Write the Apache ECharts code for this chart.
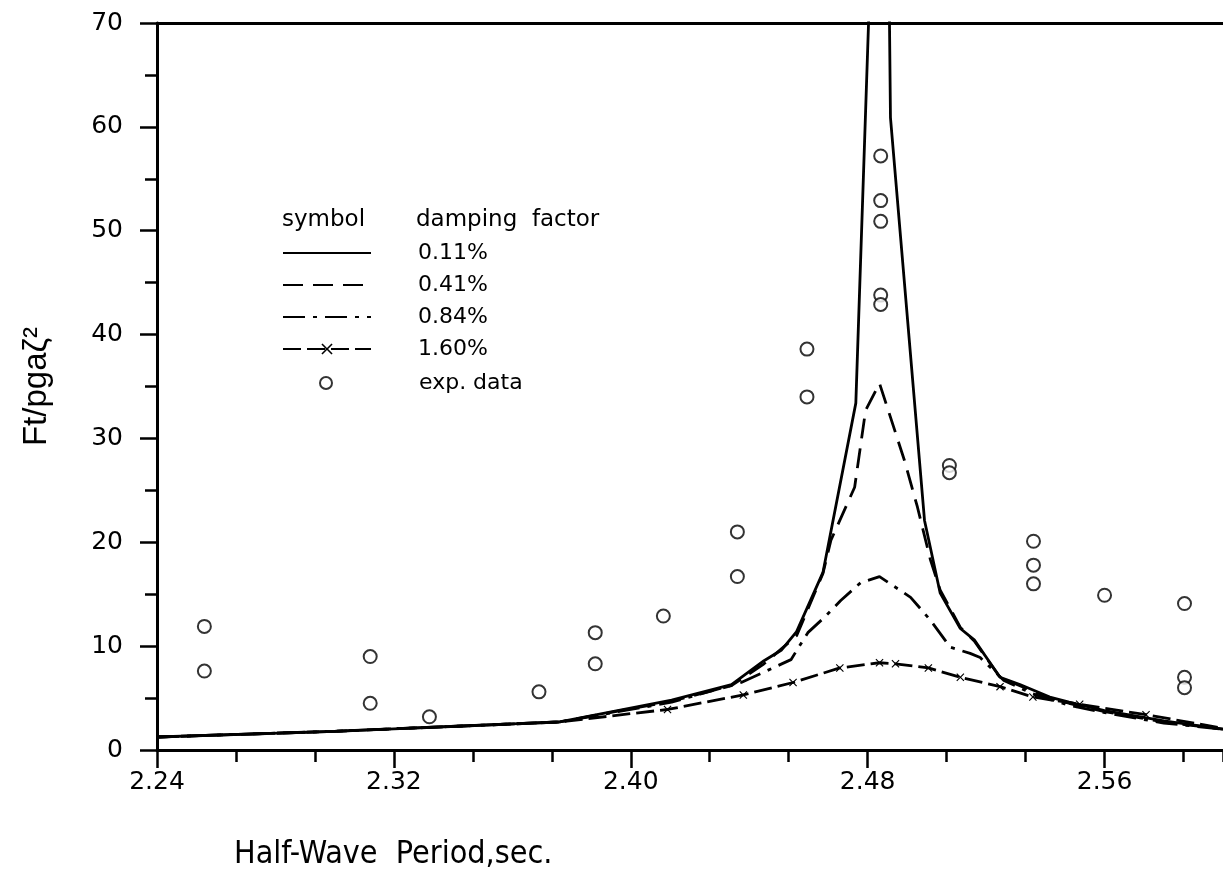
<!DOCTYPE html>
<html>
<head>
<meta charset="utf-8">
<script src="https://cdn.jsdelivr.net/npm/echarts@6/dist/echarts.min.js"></script>
<style>
html,body{margin:0;padding:0;background:#fff;}
#c{width:1223px;height:894px;}
</style>
</head>
<body>
<div id="c"></div>
<script>
// ---- data ----
const xTicks = [2.24, 2.32, 2.40, 2.48, 2.56];
const yTicks = [0, 10, 20, 30, 40, 50, 60, 70];

// damping 0.11 %
const d011X = [2.24, 2.30, 2.376, 2.4138, 2.434, 2.445, 2.4508, 2.456, 2.4649, 2.476, 2.4857, 2.4877, 2.4992, 2.5045, 2.5113, 2.516, 2.5247, 2.5314, 2.5415, 2.548, 2.56, 2.58, 2.60];
const d011Y = [1.25, 1.8, 2.7, 4.8, 6.3, 8.6, 9.6, 11.4, 17.1, 33.4, 116, 60.9, 22.1, 15.1, 11.7, 10.6, 7.0, 6.3, 5.1, 4.6, 3.8, 2.8, 2.0];

// damping 0.41 %
const d041X = [2.24, 2.30, 2.376, 2.4138, 2.434, 2.445, 2.456, 2.4649, 2.4676, 2.4756, 2.4793, 2.484, 2.4924, 2.4968, 2.5012, 2.5045, 2.5113, 2.516, 2.5247, 2.5314, 2.5415, 2.548, 2.56, 2.58, 2.60];
const d041Y = [1.25, 1.8, 2.7, 4.7, 6.2, 8.3, 11.0, 17.0, 20.2, 25.3, 32.7, 35.3, 27.9, 23.4, 18.3, 15.4, 11.8, 10.5, 7.0, 6.2, 5.0, 4.5, 3.7, 2.7, 2.0];

// damping 0.84 %
const d084X = [2.24, 2.30, 2.376, 2.4138, 2.4373, 2.4541, 2.4598, 2.4655, 2.4709, 2.4776, 2.484, 2.4945, 2.5012, 2.5079, 2.5146, 2.518, 2.526, 2.5358, 2.548, 2.56, 2.58, 2.60];
const d084Y = [1.25, 1.8, 2.7, 4.6, 6.5, 8.7, 11.3, 12.8, 14.4, 16.1, 16.7, 14.7, 12.5, 9.9, 9.3, 8.9, 6.7, 5.4, 4.3, 3.6, 2.6, 2.0];

// damping 1.60 %
const d160X = [2.24, 2.30, 2.376, 2.40, 2.4124, 2.438, 2.4548, 2.4706, 2.484, 2.4894, 2.5005, 2.5113, 2.5247, 2.5358, 2.5516, 2.574, 2.60];
const d160Y = [1.25, 1.8, 2.7, 3.5, 3.9, 5.3, 6.5, 7.9, 8.4, 8.3, 7.9, 7.0, 6.1, 5.1, 4.4, 3.4, 2.1];

// experimental data
const expX = [2.256, 2.256, 2.312, 2.312, 2.332, 2.369, 2.388, 2.388, 2.411, 2.436, 2.436, 2.4595, 2.4595, 2.4844, 2.4844, 2.4844, 2.4844, 2.4844, 2.5076, 2.5076, 2.536, 2.536, 2.536, 2.56, 2.587, 2.587, 2.587];
const expY = [11.9, 7.6, 9.0, 4.5, 3.2, 5.6, 11.3, 8.3, 12.9, 21.0, 16.7, 38.6, 34.0, 57.2, 52.9, 50.9, 43.8, 42.9, 27.4, 26.7, 20.1, 17.8, 16.0, 14.9, 14.1, 7.0, 6.0];

const seriesNames = ['0.11%', '0.41%', '0.84%', '1.60%'];
const expName = 'exp. data';

// ---- build ----
const zip = (xs, ys) => xs.map((x, i) => [x, ys[i]]);
const NUM_FONT = "'DejaVu Sans', 'Noto Sans', sans-serif";
const xMin = xTicks[0], xMax = 2.60, xStep = xTicks[1] - xTicks[0];
const yMin = yTicks[0], yMax = yTicks[yTicks.length - 1], yStep = yTicks[1] - yTicks[0];
const crossPath = 'path://M0,1L1,0L5,4L9,0L10,1L6,5L10,9L9,10L5,6L1,10L0,9L4,5Z';

const chart = echarts.init(document.getElementById('c'), null, {renderer: 'canvas'});
const lineBase = {
  type: 'line', xAxisIndex: 0, yAxisIndex: 0, smooth: false, symbol: 'none',
  animation: false, clip: true, z: 3
};
const legendText = {fontFamily: NUM_FONT, fontSize: 22, color: '#000', lineHeight: 20};
chart.setOption({
  animation: false,
  backgroundColor: '#fff',
  color: ['#000'],
  grid: {left: 157, right: 0, top: 23, bottom: 144, containLabel: false},
  xAxis: [
    {
      type: 'value', min: xMin, max: xMax, interval: xStep, position: 'bottom',
      axisLine: {show: true, onZero: false, lineStyle: {color: '#000', width: 3}},
      axisTick: {show: true, length: 18, lineStyle: {color: '#000', width: 2.5}},
      axisLabel: {
        show: true, margin: 20, color: '#000', fontFamily: NUM_FONT, fontSize: 25,
        showMaxLabel: false,
        formatter: v => {
          const k = (v - xMin) / xStep;
          return Math.abs(k - Math.round(k)) < 1e-6 ? v.toFixed(2) : '';
        }
      },
      splitLine: {show: false}
    },
    {
      type: 'value', min: xMin, max: xMax, interval: xStep / 3, position: 'bottom',
      axisLine: {show: false},
      axisTick: {show: true, length: 12, lineStyle: {color: '#000', width: 2.5}},
      axisLabel: {show: false},
      splitLine: {show: false}
    },
    {
      type: 'value', min: xMin, max: xMax, interval: xStep, position: 'top',
      axisLine: {show: true, onZero: false, lineStyle: {color: '#000', width: 3}},
      axisTick: {show: false}, axisLabel: {show: false}, splitLine: {show: false}
    }
  ],
  yAxis: {
    type: 'value', min: yMin, max: yMax, interval: yStep,
    name: 'Ft/pgaζ²', nameLocation: 'middle', nameGap: 104, nameRotate: 90,
    nameTextStyle: {fontFamily: "'Liberation Sans', Arimo, sans-serif", fontSize: 33, color: '#000'},
    axisLine: {show: true, onZero: false, lineStyle: {color: '#000', width: 3}},
    axisTick: {show: true, length: 17, lineStyle: {color: '#000', width: 2.5}},
    minorTick: {show: true, splitNumber: 2, length: 12, lineStyle: {color: '#000', width: 2.5}},
    axisLabel: {margin: 34, color: '#000', fontFamily: NUM_FONT, fontSize: 25},
    splitLine: {show: false}
  },
  legend: [
    {
      data: [
        {name: seriesNames[0], itemStyle: {opacity: 0}},
        {name: seriesNames[1], itemStyle: {opacity: 0}},
        {name: seriesNames[2], itemStyle: {opacity: 0}},
        {name: seriesNames[3]}
      ],
      orient: 'vertical', left: 282, top: 242, padding: 0,
      itemWidth: 88, itemHeight: 14, itemGap: 10,
      textStyle: Object.assign({padding: [0, 0, 0, 42]}, legendText),
      selectedMode: false
    },
    {
      data: [expName], orient: 'vertical', left: 319, top: 372, padding: 0,
      itemWidth: 12, itemHeight: 12,
      textStyle: Object.assign({padding: [0, 0, 0, 82]}, legendText),
      selectedMode: false
    }
  ],
  graphic: [
    {type: 'text', left: 282, top: 209, style: {text: 'symbol', font: "23px 'DejaVu Sans'", fill: '#000'}},
    {type: 'text', left: 416, top: 209, style: {text: 'damping  factor', font: "23px 'DejaVu Sans'", fill: '#000'}},
    {type: 'text', left: 234, top: 839, style: {text: 'Half-Wave  Period,sec.', font: "32px 'Liberation Sans Narrow', 'DejaVu Sans Condensed', 'Liberation Sans', sans-serif", fill: '#000'}}
  ],
  series: [
    Object.assign({}, lineBase, {
      name: seriesNames[0], data: zip(d011X, d011Y),
      lineStyle: {color: '#000', width: 2.8, type: 'solid'}
    }),
    Object.assign({}, lineBase, {
      name: seriesNames[1], data: zip(d041X, d041Y),
      lineStyle: {color: '#000', width: 2.8, type: [20, 10]}
    }),
    Object.assign({}, lineBase, {
      name: seriesNames[2], data: zip(d084X, d084Y),
      lineStyle: {color: '#000', width: 2.8, type: [22, 8, 4, 8]}
    }),
    Object.assign({}, lineBase, {
      name: seriesNames[3], data: zip(d160X, d160Y),
      symbol: crossPath, showSymbol: true,
      symbolSize: (v, p) => (p.dataIndex < 4 || p.dataIndex === d160X.length - 1) ? 0 : 8,
      itemStyle: {color: '#000'},
      lineStyle: {color: '#000', width: 2.8, type: [18, 6]}
    }),
    {
      type: 'scatter', name: expName, xAxisIndex: 0, yAxisIndex: 0,
      data: zip(expX, expY), symbol: 'emptyCircle', symbolSize: 13,
      itemStyle: {color: '#000', borderColor: '#000', borderWidth: 2.8},
      z: 5, animation: false
    }
  ]
});
</script>
</body>
</html>
